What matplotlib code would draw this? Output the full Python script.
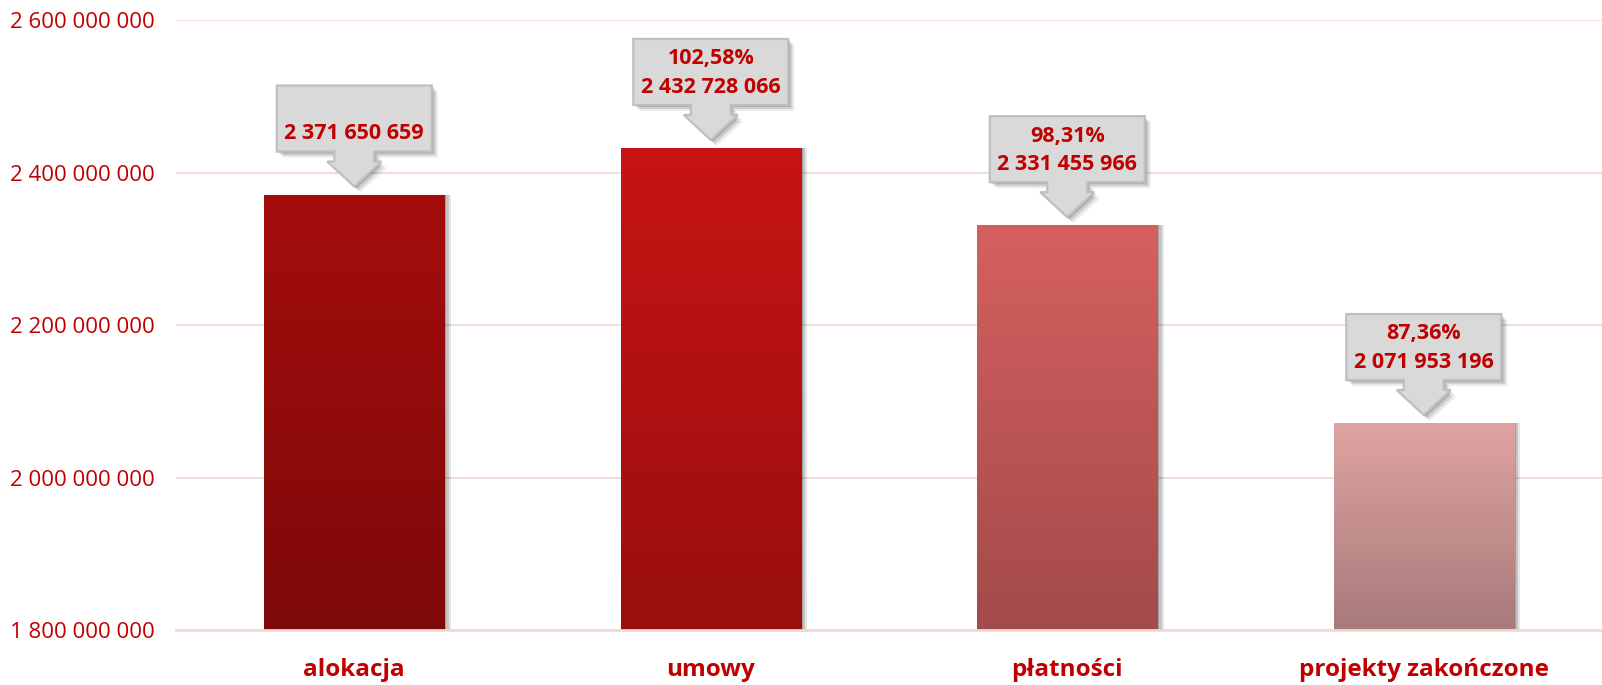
import numpy as np
import matplotlib
matplotlib.use("Agg")
import matplotlib.pyplot as plt
import matplotlib.transforms as mtransforms
from matplotlib.colors import LinearSegmentedColormap
from matplotlib.patches import Polygon
from matplotlib.ticker import FuncFormatter

categories = ["alokacja", "umowy", "płatności", "projekty zakończone"]
values = [2371650659, 2432728066, 2331455966, 2071953196]
percent_labels = ["", "102,58%", "98,31%", "87,36%"]
y_ticks = [1800000000, 2000000000, 2200000000, 2400000000, 2600000000]

TOP_COLORS = ["#A50D0D", "#C81414", "#D66060", "#E0A3A3"]
BOTTOM_COLORS = ["#7E0909", "#990E0E", "#A34A4A", "#A87A7A"]
TEXT_RED = "#C00000"
GRID_COLOR = "#EFDAD3"
BOX_FILL = "#D9D9D9"
BOX_EDGE = "#BFBFBF"


def spaced(number: int) -> str:
    return f"{int(number):,}".replace(",", " ")


plt.rcParams["font.family"] = ["Open Sans", "DejaVu Sans"]

fig = plt.figure(figsize=(16.02, 6.85), dpi=100)
ax = fig.add_axes([0.1099, 0.0797, 0.8901, 0.8905])

x = np.arange(len(categories))
bar_width = 0.505
y_min, y_max = y_ticks[0], y_ticks[-1]

# soft shadow to the right of each bar
for offset, alpha in [(0.018, 0.10), (0.012, 0.14), (0.006, 0.18)]:
    ax.bar(x + offset, np.array(values) - y_min, bottom=y_min, width=bar_width,
           color="black", alpha=alpha, linewidth=0, zorder=2)

bars = ax.bar(x, np.array(values) - y_min, bottom=y_min, width=bar_width,
              color=TOP_COLORS, linewidth=0, zorder=3)

gradient = np.linspace(1, 0, 256).reshape(-1, 1)
for bar, c_top, c_bot in zip(bars, TOP_COLORS, BOTTOM_COLORS):
    cmap = LinearSegmentedColormap.from_list("g", [c_bot, c_top])
    x0 = bar.get_x()
    img = ax.imshow(gradient, cmap=cmap, aspect="auto", zorder=4,
                    extent=[x0, x0 + bar.get_width(), y_min, bar.get_y() + bar.get_height()])
    img.set_clip_path(bar)

ax.set_xlim(-0.5, len(categories) - 0.5)
ax.set_ylim(y_min, y_max)
ax.set_yticks(y_ticks)
ax.yaxis.set_major_formatter(FuncFormatter(lambda v, _: spaced(v)))
ax.set_xticks(x, labels=categories)
ax.tick_params(axis="y", length=0, pad=15, labelsize=16, labelcolor=TEXT_RED)
ax.tick_params(axis="x", length=0, pad=20, labelsize=17.5, labelcolor=TEXT_RED)
for lbl in ax.get_xticklabels():
    lbl.set_fontweight("bold")
ax.grid(axis="y", color=GRID_COLOR, linewidth=1.3, zorder=0)
ax.set_axisbelow(True)
for side in ["left", "right", "top"]:
    ax.spines[side].set_visible(False)
ax.spines["bottom"].set_color(GRID_COLOR)
ax.spines["bottom"].set_linewidth(2)
ax.spines["bottom"].set_zorder(5)

# callout shape in inches, relative to the bar top (anchor)
box_w, box_h = 1.55, 0.66
shaft_w, head_w = 0.40, 0.54
tip_gap, head_h, shaft_h = 0.08, 0.25, 0.10
box_bottom = tip_gap + head_h + shaft_h
callout = [
    (-box_w / 2, box_bottom + box_h), (box_w / 2, box_bottom + box_h),
    (box_w / 2, box_bottom), (shaft_w / 2, box_bottom),
    (shaft_w / 2, tip_gap + head_h), (head_w / 2, tip_gap + head_h),
    (0, tip_gap),
    (-head_w / 2, tip_gap + head_h), (-shaft_w / 2, tip_gap + head_h),
    (-shaft_w / 2, box_bottom), (-box_w / 2, box_bottom),
]

for xi, val, pct in zip(x, values, percent_labels):
    anchor = fig.dpi_scale_trans + mtransforms.ScaledTranslation(xi, val, ax.transData)
    for dx, alpha in [(0.06, 0.08), (0.04, 0.12), (0.02, 0.16)]:
        shadow = Polygon([(px + dx, py - dx) for px, py in callout], closed=True,
                         transform=anchor, facecolor="black", alpha=alpha,
                         linewidth=0, zorder=6, clip_on=False)
        ax.add_patch(shadow)
    ax.add_patch(Polygon(callout, closed=True, transform=anchor, facecolor=BOX_FILL,
                         edgecolor=BOX_EDGE, linewidth=1.6, zorder=7, clip_on=False))
    text = f"{pct}\n{spaced(val)}"
    ax.text(0, box_bottom + box_h / 2 - 0.01, text, transform=anchor, ha="center", va="center",
            fontsize=15.5, fontweight="bold", color=TEXT_RED, linespacing=1.45,
            zorder=8, clip_on=False)

fig.savefig("out.png", dpi=100)
